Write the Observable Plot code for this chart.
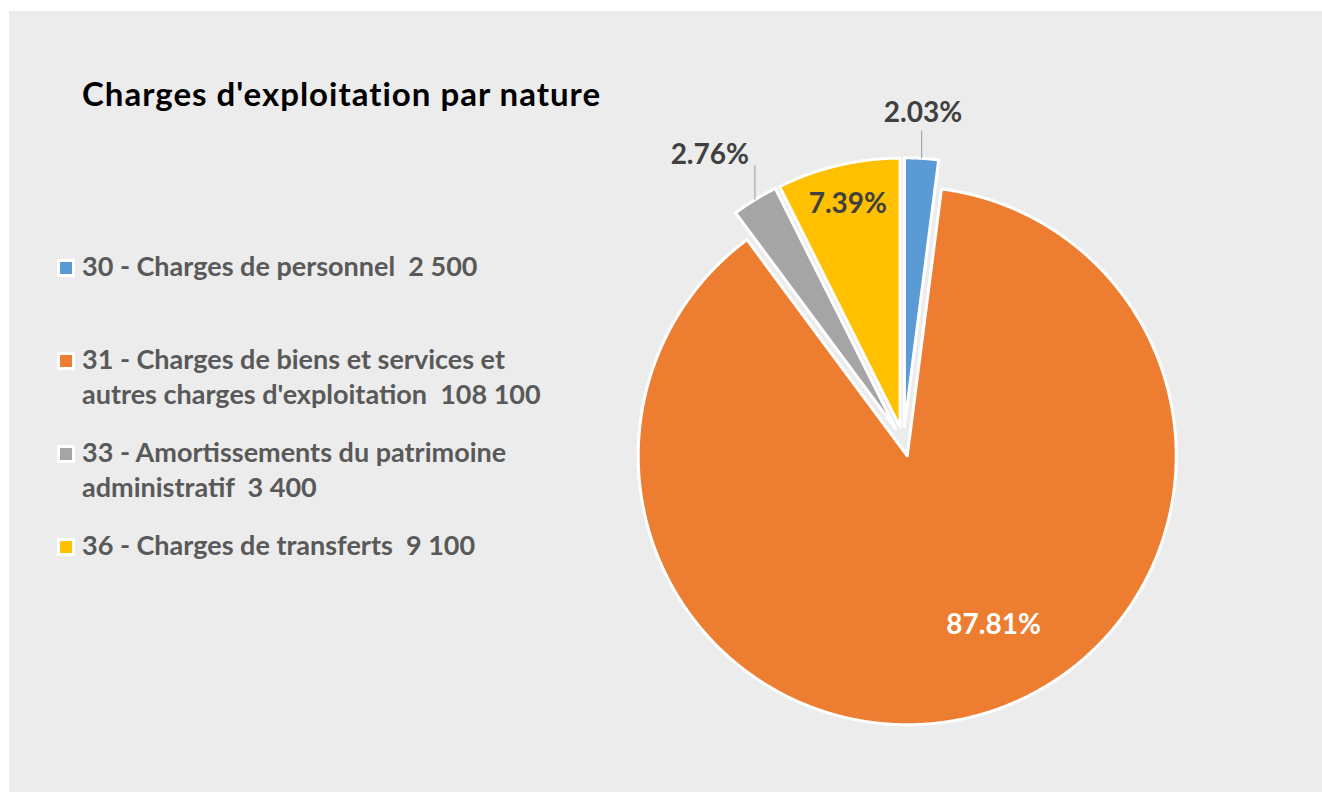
<!DOCTYPE html>
<html><head><meta charset="utf-8">
<script src="https://cdn.jsdelivr.net/npm/d3@7"></script>
<script src="https://cdn.jsdelivr.net/npm/@observablehq/plot@0.6"></script>
<style>
html,body{margin:0;padding:0;background:#fff;}
#frame{position:absolute;left:9px;top:11px;width:1313px;height:781px;background:#ececec;overflow:hidden;font-family:Lato,"Open Sans",sans-serif;}
#title{position:absolute;left:73px;top:63px;font-size:33px;letter-spacing:1px;font-weight:700;color:#000;line-height:1.2;white-space:nowrap;}
.item{position:absolute;left:48px;width:540px;height:80px;}
.sw{position:absolute;left:0;top:11px;width:12px;height:12px;border:3.5px solid #fff;}
.lab{position:absolute;left:25px;top:0;width:500px;font-size:27px;letter-spacing:0;font-weight:700;color:#595959;line-height:35px;white-space:pre-wrap;}
#chart{position:absolute;left:0;top:0;}
</style></head><body>
<div id="frame"><div id="chart"></div><div id="title"></div><div id="legend"></div></div>
<script>
// ---- data ----
const title = "Charges d'exploitation par nature";
const categories = [
  "30 - Charges de personnel",
  "31 - Charges de biens et services et autres charges d'exploitation",
  "33 - Amortissements du patrimoine administratif",
  "36 - Charges de transferts"
];
const values = [2500, 108100, 3400, 9100];
const valueLabels = ["2\u00a0500", "108\u00a0100", "3\u00a0400", "9\u00a0100"];
const colors = ["#5b9bd5", "#ed7d31", "#a5a5a5", "#ffc000"];

// ---- layout ----
const W = 1313, H = 781, CX = 894, CY = 430, R = 269;
const EXPLODE = 0.0548;
const labelRadius = [1.225, 0.761, 1.285, 0.905];
const labelShift = [-0.26, -11.5, -2.5, 0.1];
const labelColor = ["#404040", "#ffffff", "#404040", "#404040"];
const leaderGap = [18, null, 10, null];
const legendTop = 237, legendPitch = 93;

document.getElementById("title").textContent = title;

const total = d3.sum(values);
const fmt = d3.format(".2%");
const arcs = d3.pie().sort(null).value(d => d)(values);

const slicePts = [];
const labels = [];
const leaders = [];
arcs.forEach((p, i) => {
  const mid = (p.startAngle + p.endAngle) / 2;
  const ox = EXPLODE * Math.sin(mid), oy = EXPLODE * Math.cos(mid);
  const n = Math.max(2, Math.ceil((p.endAngle - p.startAngle) / (Math.PI / 720)));
  slicePts.push({k: categories[i], x: ox, y: oy});
  for (let j = 0; j <= n; j++) {
    const a = p.startAngle + (p.endAngle - p.startAngle) * j / n;
    slicePts.push({k: categories[i], x: ox + Math.sin(a), y: oy + Math.cos(a)});
  }
  slicePts.push({k: categories[i], x: ox, y: oy});
  const la = mid + labelShift[i] * Math.PI / 180;
  const lx = labelRadius[i] * Math.sin(la), ly = labelRadius[i] * Math.cos(la);
  labels.push({t: fmt(values[i] / total), x: lx, y: ly, c: labelColor[i]});
  if (leaderGap[i] != null) {
    const ex = ox + Math.sin(mid), ey = oy + Math.cos(mid);
    leaders.push({x1: ex, y1: ey, x2: ex, y2: ly - leaderGap[i] / R});
  }
});

const chart = Plot.plot({
  width: W, height: H, margin: 0,
  style: {background: "transparent", overflow: "visible"},
  x: {domain: [-CX / R, (W - CX) / R], range: [0, W], axis: null},
  y: {domain: [-(H - CY) / R, CY / R], range: [H, 0], axis: null},
  color: {domain: categories, range: colors},
  marks: [
    Plot.line(slicePts, {x: "x", y: "y", z: "k", fill: "k", stroke: "#ffffff", strokeWidth: 3, strokeLinejoin: "round"}),
    Plot.link(leaders, {x1: "x1", y1: "y1", x2: "x2", y2: "y2", stroke: "#a6a6a6", strokeWidth: 1.2}),
    Plot.text(labels, {x: "x", y: "y", text: "t", fill: "c", fontSize: 28, fontWeight: "bold", fontFamily: "Lato", lineAnchor: "middle"})
  ]
});
document.getElementById("chart").appendChild(chart);

const legend = document.getElementById("legend");
categories.forEach((c, i) => {
  const item = document.createElement("div");
  item.className = "item";
  item.style.top = (legendTop + i * legendPitch) + "px";
  const sw = document.createElement("div");
  sw.className = "sw";
  sw.style.background = colors[i];
  const lab = document.createElement("div");
  lab.className = "lab";
  lab.textContent = c + "  " + valueLabels[i];
  item.appendChild(sw);
  item.appendChild(lab);
  legend.appendChild(item);
});
</script>
</body></html>
